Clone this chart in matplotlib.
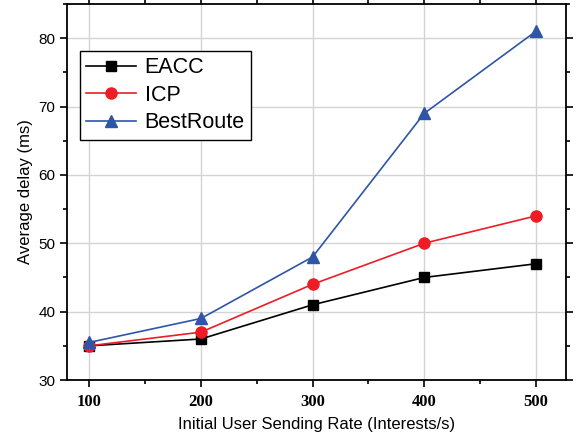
import matplotlib
matplotlib.use("Agg")
import matplotlib.pyplot as plt
from matplotlib.ticker import MultipleLocator

rates = [100, 200, 300, 400, 500]
eacc = [35, 36, 41, 45, 47]
icp = [35, 37, 44, 50, 54]
bestroute = [35.5, 39, 48, 69, 81]

plt.rcParams["font.family"] = ["Liberation Sans", "DejaVu Sans"]

fig = plt.figure(figsize=(5.76, 4.38), dpi=100)
ax = fig.add_axes([67 / 576, 1 - 380 / 438, 499 / 576, 376 / 438])

ax.plot(rates, eacc, color="black", marker="s", ms=7, lw=1.2, label="EACC", zorder=3)
ax.plot(rates, icp, color="#ee1c25", marker="o", ms=8, lw=1.2, label="ICP", zorder=3)
ax.plot(rates, bestroute, color="#2e55a6", marker="^", ms=9, lw=1.2, label="BestRoute", zorder=3)

ax.set_xlim(80, 527)
ax.set_ylim(30, 85)
ax.xaxis.set_major_locator(MultipleLocator(100))
ax.xaxis.set_minor_locator(MultipleLocator(50))
ax.yaxis.set_major_locator(MultipleLocator(10))
ax.yaxis.set_minor_locator(MultipleLocator(5))
ax.grid(True, which="major", color="#d4d4d4", lw=1)
ax.set_axisbelow(True)

ax.tick_params(which="both", direction="out", width=1.2, top=True, right=True)
ax.tick_params(which="major", length=5)
ax.tick_params(which="minor", length=3)
ax.tick_params(axis="y", labelsize=11)
for s in ax.spines.values():
    s.set_linewidth(1.3)

for lab in ax.get_xticklabels():
    lab.set_fontfamily("Liberation Serif")
    lab.set_fontweight("bold")
    lab.set_fontsize(12)
ax.tick_params(axis="x", pad=5)

ax.set_xlabel("Initial User Sending Rate (Interests/s)", fontsize=12, labelpad=5)
ax.set_ylabel("Average delay (ms)", fontsize=12, labelpad=4)

leg = ax.legend(loc="upper left", bbox_to_anchor=(0.026, 0.875), borderaxespad=0,
                fontsize=15.5, fancybox=False, framealpha=1, edgecolor="black",
                handlelength=2.3, borderpad=0.3, labelspacing=0.3, handletextpad=0.4)
leg.get_frame().set_linewidth(1.0)

fig.savefig("out.png", dpi=100)
